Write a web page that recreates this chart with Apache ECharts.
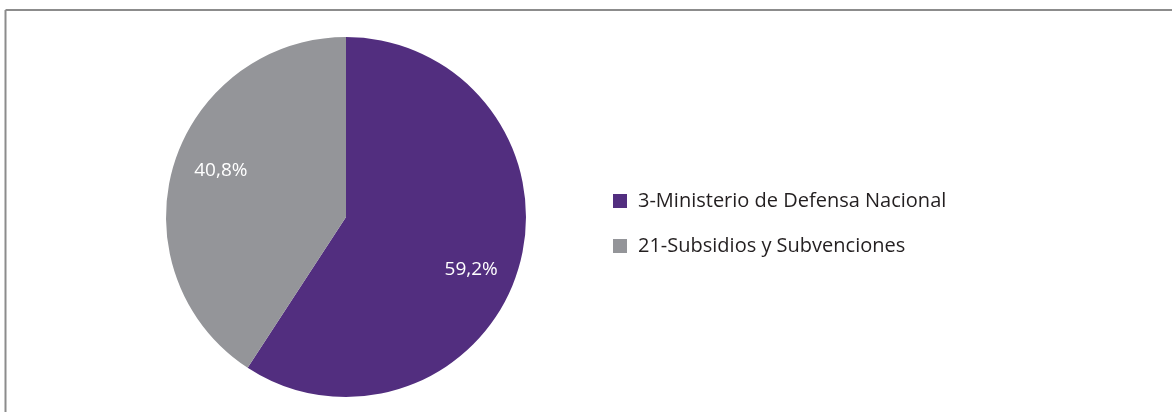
<!DOCTYPE html>
<html>
<head>
<meta charset="utf-8">
<script src="https://cdn.jsdelivr.net/npm/echarts@6/dist/echarts.min.js"></script>
<style>
html,body{margin:0;padding:0;background:#fff;}
#chart{width:1172px;height:412px;}
</style>
</head>
<body>
<div id="chart"></div>
<script>
const categories = ['3-Ministerio de Defensa Nacional', '21-Subsidios y Subvenciones'];
const values = [59.2, 40.8];
const colors = ['#522e7f', '#949599'];
const labelShift = [[36, 26], [-36, -20]];

const chart = echarts.init(document.getElementById('chart'));
chart.setOption({
  animation: false,
  color: colors,
  textStyle: { fontFamily: 'Open Sans' },
  graphic: [
    { type: 'line', shape: { x1: 5.5, y1: 10, x2: 1172, y2: 10 }, style: { stroke: '#8c8c8c', lineWidth: 2 } },
    { type: 'line', shape: { x1: 5.5, y1: 10, x2: 5.5, y2: 412 }, style: { stroke: '#8c8c8c', lineWidth: 2 } }
  ],
  legend: {
    orient: 'vertical',
    left: 608,
    top: 186,
    itemWidth: 14,
    itemHeight: 14,
    itemGap: 25,
    icon: 'rect',
    textStyle: { fontSize: 20, color: '#231f20', fontFamily: 'Open Sans', padding: [0, 0, 0, 6] },
    data: categories
  },
  series: [{
    type: 'pie',
    center: [346, 217],
    radius: [0, 180],
    startAngle: 90,
    clockwise: true,
    label: {
      show: true,
      position: 'inside',
      color: '#ffffff',
      fontSize: 19,
      fontFamily: 'Open Sans',
      formatter: p => p.value.toFixed(1).replace('.', ',') + '%'
    },
    labelLine: { show: false },
    labelLayout: p => ({ dx: labelShift[p.dataIndex][0], dy: labelShift[p.dataIndex][1] }),
    emphasis: { disabled: true },
    data: categories.map((c, i) => ({ name: c, value: values[i] }))
  }]
});
</script>
</body>
</html>
